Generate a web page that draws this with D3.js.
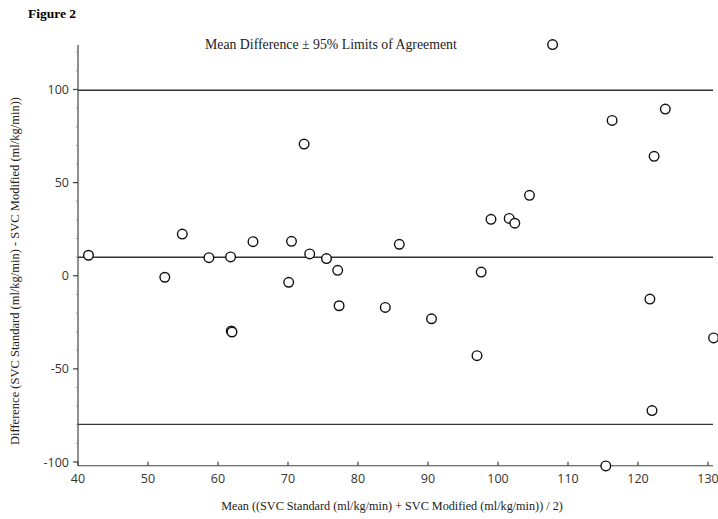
<!DOCTYPE html>
<html><head><meta charset="utf-8">
<script src="https://cdn.jsdelivr.net/npm/d3@7"></script>
<style>body{margin:0;background:#fff}</style>
</head><body><svg id="c" width="718" height="519"></svg>
<script>
const meanVals = [41.5,52.4,54.9,58.7,61.8,61.9,62.0,65.0,70.1,70.5,72.3,73.1,75.5,77.1,77.3,83.9,85.9,90.5,97.0,97.6,99.0,101.6,102.4,104.5,107.8,115.4,116.3,121.7,122.0,122.3,123.9,130.8];
const diffVals = [11.0,-0.8,22.4,9.7,10.1,-29.6,-30.2,18.3,-3.5,18.5,70.7,11.7,9.2,2.9,-16.1,-17.0,16.9,-23.1,-42.9,2.0,30.3,30.8,28.2,43.2,124.1,-102.1,83.4,-12.5,-72.4,64.1,89.5,-33.4];
const refLines = [99.6, 9.9, -79.8];
const xTicks = [40,50,60,70,80,90,100,110,120,130];
const yTicks = [100,50,0,-50,-100];
const yMinor = d3.range(-100,121,10);

const svg = d3.select("#c");
const x = d3.scaleLinear().domain([40,130]).range([78,708]);
const y = d3.scaleLinear().domain([-100,100]).range([462,89.5]);
const xEnd = 713, yBottom = y(-102), yTop = 45;

svg.append("text").attr("x",28).attr("y",18).attr("font-family","Liberation Serif")
  .attr("font-weight","bold").attr("font-size",13.5).text("Figure 2");

svg.append("text").attr("x",205).attr("y",49).attr("font-family","Liberation Serif")
  .attr("font-size",13.8).attr("fill","#222").text("Mean Difference \u00b1 95% Limits of Agreement");

// axes
const ax = svg.append("g").attr("stroke","#444").attr("stroke-width",1.2);
ax.append("line").attr("x1",x(40)).attr("x2",x(40)).attr("y1",yTop).attr("y2",yBottom);
ax.append("line").attr("x1",x(40)).attr("x2",xEnd).attr("y1",yBottom).attr("y2",yBottom);

svg.append("g").selectAll("line").data(yMinor).join("line")
  .attr("x1",x(40)-2).attr("x2",x(40)).attr("y1",d=>y(d)).attr("y2",d=>y(d))
  .attr("stroke","#888").attr("stroke-width",0.8);
svg.append("g").selectAll("line").data(yTicks).join("line")
  .attr("x1",x(40)-5).attr("x2",x(40)).attr("y1",d=>y(d)).attr("y2",d=>y(d))
  .attr("stroke","#444").attr("stroke-width",1.2);
svg.append("g").selectAll("text").data(yTicks).join("text")
  .attr("x",x(40)-9).attr("y",d=>y(d)+4.5).attr("text-anchor","end")
  .attr("font-family","Open Sans").attr("font-size",12.5).attr("fill","#333").text(d=>d);

svg.append("g").selectAll("line").data(xTicks).join("line")
  .attr("x1",d=>x(d)).attr("x2",d=>x(d)).attr("y1",yBottom).attr("y2",yBottom-4)
  .attr("stroke","#444").attr("stroke-width",1.2);
svg.append("g").selectAll("text").data(xTicks).join("text")
  .attr("x",d=>x(d)).attr("y",yBottom+17).attr("text-anchor","middle")
  .attr("font-family","Open Sans").attr("font-size",12.5).attr("fill","#333").text(d=>d);

// reference lines
svg.append("g").selectAll("line").data(refLines).join("line")
  .attr("x1",x(40)).attr("x2",xEnd).attr("y1",d=>y(d)).attr("y2",d=>y(d))
  .attr("stroke","#333").attr("stroke-width",1.4);

// points
svg.append("g").selectAll("circle").data(meanVals.map((m,i)=>[m,diffVals[i]])).join("circle")
  .attr("cx",d=>x(d[0])).attr("cy",d=>y(d[1])).attr("r",4.8)
  .attr("fill","white").attr("stroke","#111").attr("stroke-width",1.4);

// axis titles
svg.append("text").attr("x",392).attr("y",510).attr("text-anchor","middle")
  .attr("font-family","Liberation Serif").attr("font-size",12.2).attr("fill","#222")
  .text("Mean ((SVC Standard (ml/kg/min) + SVC Modified (ml/kg/min)) / 2)");
svg.append("text").attr("transform","translate(19,271) rotate(-90)").attr("text-anchor","middle")
  .attr("font-family","Liberation Serif").attr("font-size",12.5).attr("fill","#222")
  .text("Difference (SVC Standard (ml/kg/min) - SVC Modified (ml/kg/min))");
</script></body></html>
